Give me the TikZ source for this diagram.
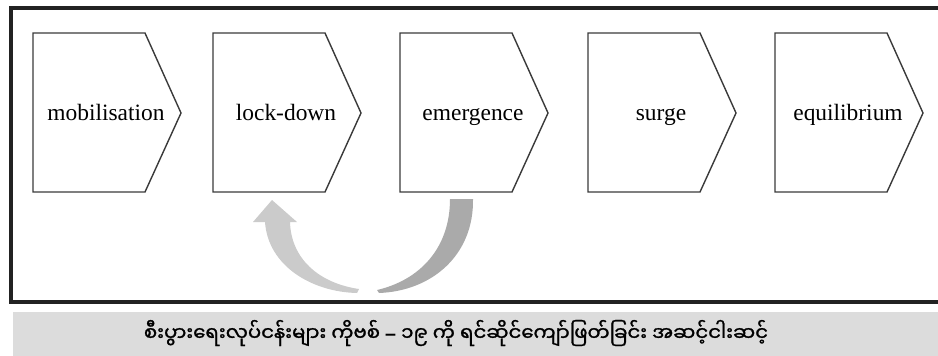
\documentclass[tikz,border=0pt]{standalone}
\usepackage{fontspec}
\setmainfont{Liberation Serif}
\newfontfamily\mmfont[Script=Myanmar,FakeBold=1.3]{Noto Sans Myanmar UI}
\newfontfamily\dashfont{Liberation Sans}
\definecolor{framegray}{HTML}{222222}
\definecolor{boxgray}{HTML}{3A3A3A}
\definecolor{bandgray}{HTML}{DCDCDC}
\definecolor{backgray}{HTML}{AAAAAA}
\definecolor{fwdgray}{HTML}{CBCBCB}

\begin{document}
\begin{tikzpicture}[x=0.3mm, y=-0.3mm,
  stage/.style = {draw = boxgray, line width = 1.2pt, line join = miter},
  label/.style = {font = \fontsize{20}{22}\selectfont, inner sep = 0pt, anchor = base}]
  \useasboundingbox (0,0) rectangle (938,355);
  \clip (0,0) rectangle (938,355);
  % outer frame, open on the right
  \draw[framegray, line width = 2.6pt] (950,8) -- (11,8) -- (11,302) -- (950,302);
  % the five stages
  \foreach \x/\name/\txt in {33/mob/mobilisation, 213/lock/lock-down,
    400/emer/emergence, 588/surge/surge, 775/equi/equilibrium}
  {
  \draw[stage] (\x,33) -- ++(112,0) -- ++(36,80) -- ++(-36,79) -- ++(-112,0) -- cycle;
  \node[label] (\name) at (\x+73,120) {\txt};
  }
  % going back from emergence to lock-down
  \fill[backgray] (450,199) -- (473,199)
  .. controls (474,255) and (432,291) .. (379,293)
  -- (377,290)
  .. controls (420,280) and (450,248) .. (450,199) -- cycle;
  \fill[fwdgray] (272,200) -- (297,222) -- (290,222)
  .. controls (291,258) and (318,283) .. (359,289)
  -- (357,293)
  .. controls (312,292) and (268,266) .. (265,222)
  -- (253,222) -- cycle;
  % caption
  \fill[bandgray] (13,312) rectangle (950,360);
  \node[font = \mmfont\fontsize{16.8}{18}\selectfont] (caption) at (456,333)
  {စီးပွားရေးလုပ်ငန်းများ ကိုဗစ် {\dashfont\bfseries –} ၁၉ ကို ရင်ဆိုင်ကျော်ဖြတ်ခြင်း အဆင့်ငါးဆင့်};
\end{tikzpicture}
\end{document}
